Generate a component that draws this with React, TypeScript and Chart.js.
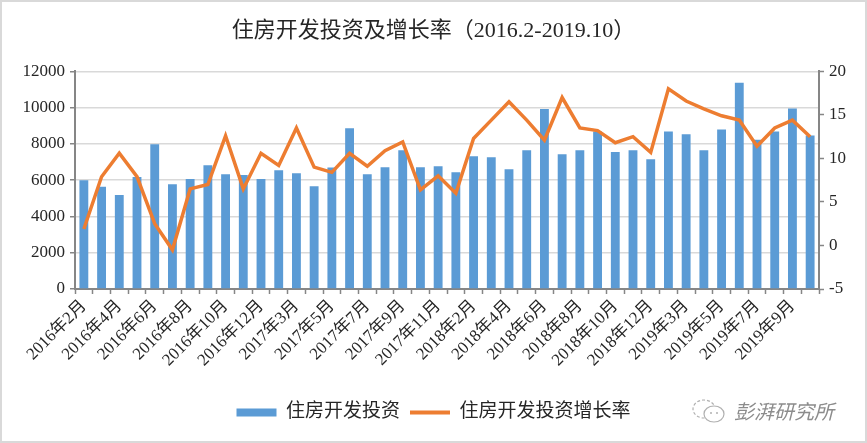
import React, { useEffect, useRef } from "react";
import { Chart, registerables } from "chart.js";

Chart.register(...registerables);

const categories: string[] = [
  "2016年2月", "2016年3月", "2016年4月", "2016年5月", "2016年6月", "2016年7月",
  "2016年8月", "2016年9月", "2016年10月", "2016年11月", "2016年12月",
  "2017年2月", "2017年3月", "2017年4月", "2017年5月", "2017年6月", "2017年7月",
  "2017年8月", "2017年9月", "2017年10月", "2017年11月", "2017年12月",
  "2018年2月", "2018年3月", "2018年4月", "2018年5月", "2018年6月", "2018年7月",
  "2018年8月", "2018年9月", "2018年10月", "2018年11月", "2018年12月",
  "2019年2月", "2019年3月", "2019年4月", "2019年5月", "2019年6月", "2019年7月",
  "2019年8月", "2019年9月", "2019年10月",
];

const investment: number[] = [
  6000, 5640, 5180, 6170, 7980, 5780, 6060, 6830, 6330, 6280, 6060,
  6550, 6390, 5670, 6700, 8860, 6330, 6720, 7650, 6720, 6770, 6440,
  7320, 7260, 6610, 7650, 9920, 7430, 7650, 8690, 7560, 7650, 7160,
  8690, 8530, 7650, 8800, 11380, 8230, 8690, 9950, 8470,
];

const growth: number[] = [
  1.9, 7.9, 10.6, 7.9, 2.5, -0.5, 6.5, 7.0, 12.6, 6.5, 10.6,
  9.2, 13.5, 9.0, 8.4, 10.6, 9.1, 10.9, 11.9, 6.4, 8.0, 6.0,
  12.3, 14.4, 16.5, 14.4, 12.1, 17.0, 13.5, 13.2, 11.8, 12.5, 10.7,
  18.0, 16.6, 15.7, 14.9, 14.4, 11.4, 13.5, 14.4, 12.5,
];

const leftTicks = { min: 0, max: 12000, step: 2000 };
const rightTicks = { min: -5, max: 20, step: 5 };

const TITLE = "住房开发投资及增长率（2016.2-2019.10）";
const SERIES_BAR = "住房开发投资";
const SERIES_LINE = "住房开发投资增长率";
const WATERMARK = "彭湃研究所";

const FONT = '"Liberation Serif", "Noto Sans CJK SC", serif';
const BLUE = "#5B9BD5";
const ORANGE = "#ED7D31";
const AXIS = "#868686";
const GRID = "#D9D9D9";
const TEXT = "#262626";

export default function App() {
  const ref = useRef<HTMLCanvasElement | null>(null);

  useEffect(() => {
    document.body.style.margin = "0";
    if (!ref.current) return;
    const chart = new Chart(ref.current, {
      type: "bar",
      data: {
        labels: categories,
        datasets: [
          {
            type: "line",
            label: SERIES_LINE,
            data: growth,
            yAxisID: "y1",
            borderColor: ORANGE,
            backgroundColor: ORANGE,
            borderWidth: 3.5,
            pointRadius: 0,
            tension: 0,
            order: 0,
          } as any,
          {
            type: "bar",
            label: SERIES_BAR,
            data: investment,
            yAxisID: "y",
            backgroundColor: BLUE,
            borderWidth: 0,
            categoryPercentage: 0.5,
            barPercentage: 1,
            order: 1,
          } as any,
        ],
      },
      options: {
        responsive: false,
        animation: false,
        layout: { padding: { top: 0, bottom: 11, left: 0, right: 0 } },
        plugins: {
          title: {
            display: true,
            text: TITLE,
            color: TEXT,
            font: { family: FONT, size: 22, weight: "normal" },
            padding: { top: 18, bottom: 27 },
          },
          legend: {
            position: "bottom",
            reverse: true,
            labels: {
              usePointStyle: true,
              pointStyleWidth: 40,
              boxHeight: 8,
              color: TEXT,
              padding: 10,
              font: { family: FONT, size: 19 },
              generateLabels: (c: any) => {
                const base = Chart.defaults.plugins.legend.labels.generateLabels(c);
                return base.map((l: any) => ({
                  ...l,
                  pointStyle: l.datasetIndex === 0 ? "line" : "rect",
                  lineWidth: l.datasetIndex === 0 ? 4 : 0,
                }));
              },
            },
          },
          tooltip: { enabled: false },
        },
        scales: {
          x: {
            grid: {
              drawOnChartArea: false,
              drawTicks: true,
              tickLength: 5,
              tickColor: AXIS,
              tickWidth: 1.5,
              offset: true,
            },
            border: { color: AXIS, width: 2 },
            ticks: {
              autoSkip: false,
              maxRotation: 45,
              minRotation: 45,
              padding: 2,
              color: TEXT,
              font: { family: FONT, size: 17 },
              callback: (_v: any, i: number) => (i % 2 === 0 ? categories[i] : ""),
            },
            afterFit: (s: any) => {
              s.height = 104;
            },
          },
          y: {
            position: "left",
            min: leftTicks.min,
            max: leftTicks.max,
            ticks: {
              stepSize: leftTicks.step,
              color: TEXT,
              padding: 5,
              font: { family: FONT, size: 17 },
              callback: (v: any) => String(v),
            },
            grid: {
              color: GRID,
              lineWidth: 1.5,
              tickColor: AXIS,
              tickLength: 5,
              tickWidth: 1.5,
            },
            border: { color: AXIS, width: 2 },
            afterFit: (s: any) => {
              s.width = 75;
            },
          },
          y1: {
            position: "right",
            min: rightTicks.min,
            max: rightTicks.max,
            ticks: {
              stepSize: rightTicks.step,
              color: TEXT,
              padding: 5,
              font: { family: FONT, size: 17 },
              callback: (v: any) => String(v),
            },
            grid: {
              drawOnChartArea: false,
              tickColor: AXIS,
              tickLength: 5,
              tickWidth: 1.5,
            },
            border: { color: AXIS, width: 2 },
            afterFit: (s: any) => {
              s.width = 48;
            },
          },
        },
      },
    });
    return () => chart.destroy();
  }, []);

  return (
    <div style={{ position: "relative", width: 867, height: 443, background: "#fff" }}>
      <canvas ref={ref} width={867} height={443} style={{ display: "block" }} />
      <div
        style={{
          position: "absolute",
          left: 0,
          top: 0,
          width: 867,
          height: 443,
          boxSizing: "border-box",
          border: "2px solid #D9D9D9",
          pointerEvents: "none",
        }}
      />
      <div
        style={{
          position: "absolute",
          left: 690,
          top: 396,
          display: "flex",
          alignItems: "center",
          color: "#8C8C8C",
          fontFamily: '"Noto Sans CJK SC", sans-serif',
          fontSize: 20,
          fontStyle: "italic",
          whiteSpace: "nowrap",
        }}
      >
        <svg width="38" height="28" viewBox="0 0 38 28" style={{ marginRight: 6 }}>
          <ellipse cx="14" cy="12" rx="11" ry="9" fill="none" stroke="#B0B0B0" strokeWidth="1.2" strokeDasharray="3 2" />
          <ellipse cx="24" cy="17" rx="10" ry="8" fill="#fff" stroke="#B0B0B0" strokeWidth="1.2" />
          <circle cx="21" cy="16" r="1" fill="#B0B0B0" />
          <circle cx="27" cy="16" r="1" fill="#B0B0B0" />
        </svg>
        <span>{WATERMARK}</span>
      </div>
    </div>
  );
}
